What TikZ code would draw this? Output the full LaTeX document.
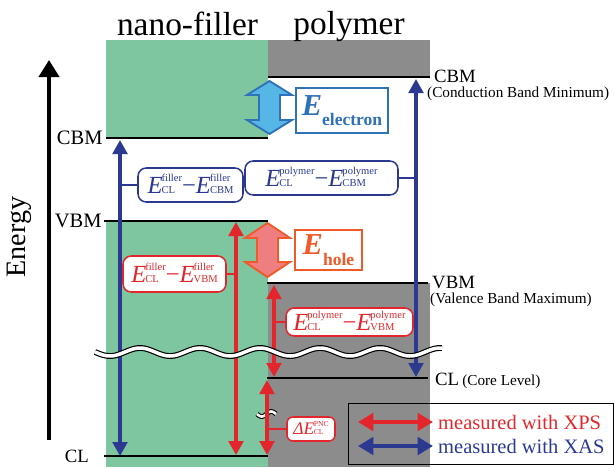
\documentclass[tikz,border=0pt]{standalone}
\usepackage{fontspec}
\setmainfont{Liberation Serif}
\usetikzlibrary{arrows.meta}
\definecolor{fillgreen}{RGB}{125,198,160}
\definecolor{polygray}{RGB}{140,140,140}
\definecolor{xasblue}{RGB}{43,57,144}
\definecolor{xpsred}{RGB}{227,38,43}
\definecolor{elblue}{RGB}{47,114,184}
\definecolor{elfill}{RGB}{86,183,230}
\definecolor{hlorange}{RGB}{239,90,40}
\definecolor{hlfill}{RGB}{238,126,128}
\newcommand{\Eterm}[2]{\textit{E}\kern-.04em{\fontsize{9}{9}\selectfont\renewcommand{\arraystretch}{1.1}\setlength{\tabcolsep}{0pt}\begin{tabular}[b]{l}#1\\#2\end{tabular}}}
\newcommand{\Ebig}[2]{\textbf{\textit{E}}\raisebox{-#2}{\fontsize{15}{15}\selectfont\textbf{#1}}}

\begin{document}
\begin{tikzpicture}[x=0.03cm,y=-0.03cm,
  lvl/.style={line width=2pt},
  xpsarr/.style={xpsred,line width=2.6pt,{Triangle[length=4.2mm,width=4.4mm]}-{Triangle[length=4.2mm,width=4.4mm]}},
  xasarr/.style={xasblue,line width=2.6pt,{Triangle[length=4.2mm,width=4.4mm]}-{Triangle[length=4.2mm,width=4.4mm]}},
  tagbox/.style={draw,fill=white,rounded corners=7pt,line width=1.3pt,inner sep=0pt,font=\fontsize{21}{21}\selectfont},
  gapbox/.style={draw,fill=white,line width=2pt,inner sep=0pt,font=\fontsize{26}{26}\selectfont},
  fat/.style={line width=1.6pt,line join=miter}]
\useasboundingbox (0,0) rectangle (614,467);
% bands
\fill[fillgreen] (106,40) rectangle (268,138);
\fill[fillgreen] (106,221) rectangle (268,467);
\fill[polygray] (268,40) rectangle (430,77);
\fill[polygray] (268,283) rectangle (430,467);
\node[anchor=base,font=\fontsize{28.5}{30}\selectfont] (tfill) at (187.5,35) {nano-filler};
\node[anchor=base,font=\fontsize{28.5}{30}\selectfont] (tpoly) at (349,34) {polymer};
% energy axis
\coordinate (ax0) at (49,440);
\coordinate (ax1) at (49,60);
\draw[line width=3.4pt,-{Triangle[length=5.1mm,width=6mm]}] (ax0) -- (ax1);
\node[rotate=90,font=\fontsize{24}{24}\selectfont] (energy) at (19,237) {Energy};
% levels
\draw[lvl] (106,138) node[left,inner sep=2pt,font=\fontsize{17.5}{18}\selectfont] (lcbm) {CBM} -- (268,138);
\draw[lvl] (104,221) node[left,inner sep=1pt,font=\fontsize{17.5}{18}\selectfont] (lvbm) {VBM} -- (268,221);
\draw[lvl] (104,456) node[left,inner sep=12pt,font=\fontsize{16}{16}\selectfont] (lcl) {CL} -- (268,456);
\draw[lvl] (268,77) -- (430,77);
\node[anchor=base west,inner sep=0pt,font=\fontsize{16}{16}\selectfont] (rcbm) at (434,82) {CBM};
\node[anchor=base west,inner sep=0pt,font=\fontsize{13}{13}\selectfont] (rcbmx) at (427,97.5) {(Conduction Band Minimum)};
\draw[lvl] (267,283) -- (428,283);
\node[anchor=base west,inner sep=0pt,font=\fontsize{16}{16}\selectfont] (rvbm) at (432,288) {VBM};
\node[anchor=base west,inner sep=0pt,font=\fontsize{13}{13}\selectfont] (rvbmx) at (430,303.5) {(Valence Band Maximum)};
\draw[lvl] (267,378) -- (428,378);
\node[anchor=base west,inner sep=0pt,font=\fontsize{16}{16}\selectfont] (rcl) at (435,385) {CL\,{\fontsize{13}{13}\selectfont(Core Level)}};
% measured gaps
\coordinate (fb0) at (120,456); \coordinate (fb1) at (120,140);
\coordinate (pb0) at (416,377); \coordinate (pb1) at (416,79);
\coordinate (fr0) at (236,455); \coordinate (fr1) at (236,222);
\coordinate (pr0) at (274,377); \coordinate (pr1) at (274,285);
\coordinate (dr0) at (267,455); \coordinate (dr1) at (267,380);
\draw[xasarr] (fb0) -- (fb1);
\draw[xasarr] (pb0) -- (pb1);
\draw[xpsarr] (fr0) -- (fr1);
\draw[xpsarr] (pr0) -- (pr1);
% axis break
\draw[line width=5pt] plot[domain=95:442,samples=150] (\x,{352+4*sin(6*(\x-95))});
\draw[white,line width=3pt] plot[domain=95:442,samples=150] (\x,{352+4*sin(6*(\x-95))});
\draw[line width=4pt] plot[domain=257:276,samples=30] (\x,{414+2.5*sin(19*(\x-257))});
\draw[white,line width=2.2pt] plot[domain=257:276,samples=30] (\x,{414+2.5*sin(19*(\x-257))});
\draw[xpsarr] (dr0) -- (dr1);
% labels on the arrows
\node[tagbox,draw=xasblue,text=xasblue,minimum width=3.15cm,minimum height=1.02cm] (fcbm) at (190.5,185) {\Eterm{filler}{CL}−\Eterm{filler}{CBM}};
\node[tagbox,draw=xasblue,text=xasblue,minimum width=4.59cm,minimum height=1.02cm] (pcbm) at (321.5,178) {\Eterm{polymer}{CL}−\Eterm{polymer}{CBM}};
\node[tagbox,draw=xpsred,text=xpsred,minimum width=3.09cm,minimum height=1.08cm] (fvbm) at (174.5,274) {\Eterm{filler}{CL}−\Eterm{filler}{VBM}};
\node[tagbox,draw=xpsred,text=xpsred,minimum width=3.81cm,minimum height=0.84cm] (pvbm) at (349.5,322) {\Eterm{polymer}{CL}−\Eterm{polymer}{VBM}};
\node[tagbox,draw=xpsred,text=xpsred,rounded corners=5pt,minimum width=1.44cm,minimum height=0.72cm,font=\fontsize{15}{15}\selectfont] (dpnc) at (311,429) {\textit{ΔE}\kern-.03em{\fontsize{6.5}{6.5}\selectfont\renewcommand{\arraystretch}{1.1}\setlength{\tabcolsep}{0pt}\begin{tabular}[b]{l}PNC\\CL\end{tabular}}};
\draw[xasblue,line width=1.3pt] (fcbm.west) -- (fcbm.west -| fb1);
\draw[xasblue,line width=1.3pt] (pcbm.east) -- (pcbm.east -| pb1);
\draw[xpsred,line width=1.3pt] (fvbm.east) -- (fvbm.east -| fr1);
\draw[xpsred,line width=1.3pt] (pvbm.west) -- (pvbm.west -| pr1);
\draw[xpsred,line width=1.3pt] (dpnc.west) -- (dpnc.west -| dr1);
% band offsets
\filldraw[fat,draw=elblue,fill=elfill] (269.5,81) -- (292,95) -- (280,95) -- (280,120) -- (292,120) -- (269.5,134) -- (247,120) -- (259,120) -- (259,95) -- (247,95) -- cycle;
\filldraw[fat,draw=hlorange,fill=hlfill] (267.5,223) -- (290,238) -- (278,238) -- (278,262) -- (290,262) -- (267.5,277) -- (245,262) -- (257,262) -- (257,238) -- (245,238) -- cycle;
\node[gapbox,draw=elblue,text=elblue,minimum width=2.76cm,minimum height=1.35cm] (eel) at (342,110.5) {\Ebig{electron}{8pt}};
\node[gapbox,draw=hlorange,text=hlorange,minimum width=2.01cm,minimum height=1.2cm] (eho) at (328.5,250) {\Ebig{hole}{9pt}};
% legend
\node[draw,line width=0.9pt,minimum width=7.95cm,minimum height=1.83cm,anchor=north west,inner sep=0pt] (legend) at (348,403) {};
\coordinate (lx0) at (358,422); \coordinate (lx1) at (433,422);
\coordinate (la0) at (358,446); \coordinate (la1) at (433,446);
\draw[xpsred,line width=3.2pt,{Triangle[length=4.6mm,width=5.2mm]}-{Triangle[length=4.6mm,width=5.2mm]}] (lx0) -- (lx1);
\draw[xasblue,line width=3.2pt,{Triangle[length=4.6mm,width=5.2mm]}-{Triangle[length=4.6mm,width=5.2mm]}] (la0) -- (la1);
\node[anchor=west,text=xpsred,inner sep=0pt,font=\fontsize{17.5}{18}\selectfont] (lxps) at (438,422) {measured with XPS};
\node[anchor=west,text=xasblue,inner sep=0pt,font=\fontsize{17.5}{18}\selectfont] (lxas) at (438,446) {measured with XAS};
\end{tikzpicture}
\end{document}
